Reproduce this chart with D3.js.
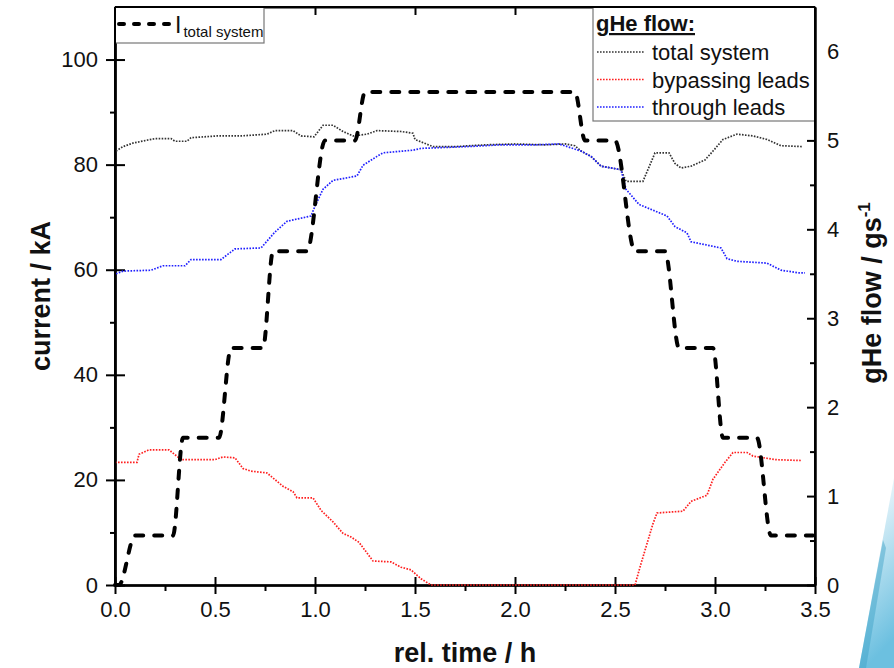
<!DOCTYPE html>
<html>
<head>
<meta charset="utf-8">
<script src="https://cdn.jsdelivr.net/npm/d3@7"></script>
<style>
  body { margin: 0; background: #fff; }
  svg { display: block; font-family: "Liberation Sans", Arial, sans-serif; }
  .axis path, .axis line { stroke: #000; stroke-width: 2; }
  .axis text { font-size: 22px; fill: #111; font-family: "Liberation Sans", Arial, sans-serif; }
</style>
</head>
<body>
<svg id="chart" width="894" height="668"></svg>
<script>
// current through the system (kA), step profile
const currentTime = [0, 0.02, 0.1, 0.29, 0.34, 0.52, 0.58, 0.74, 0.79, 0.96, 1.05, 1.2, 1.25, 2.3, 2.35, 2.5, 2.6, 2.75, 2.82, 2.99, 3.04, 3.21, 3.28, 3.49]
const currentKA = [0, 0, 9.4, 9.4, 28, 28, 45.1, 45.1, 63.5, 63.5, 84.6, 84.6, 93.8, 93.8, 84.6, 84.6, 63.5, 63.5, 45.1, 45.1, 28, 28, 9.4, 9.4]

// gHe flow, total system (g/s)
const totalTime = [0.005, 0.04, 0.09, 0.2, 0.28, 0.3, 0.36, 0.38, 0.51, 0.63, 0.76, 0.8, 0.89, 0.93, 0.995, 1.04, 1.09, 1.14, 1.19, 1.26, 1.31, 1.43, 1.49, 1.5, 1.59, 1.7, 1.85, 2.0, 2.15, 2.25, 2.3, 2.33, 2.38, 2.43, 2.53, 2.555, 2.64, 2.7, 2.77, 2.8, 2.83, 2.88, 2.95, 2.99, 3.04, 3.11, 3.19, 3.26, 3.33, 3.44]
const totalFlow = [4.88, 4.93, 4.97, 5.02, 5.02, 4.99, 4.99, 5.03, 5.05, 5.05, 5.07, 5.11, 5.11, 5.05, 5.04, 5.17, 5.17, 5.1, 5.05, 5.07, 5.11, 5.1, 5.08, 5.01, 4.93, 4.93, 4.95, 4.96, 4.95, 4.96, 4.94, 4.88, 4.82, 4.71, 4.67, 4.54, 4.54, 4.86, 4.86, 4.74, 4.69, 4.71, 4.78, 4.88, 5.01, 5.07, 5.05, 5.01, 4.94, 4.93]

// gHe flow bypassing the leads (g/s)
const bypassTime = [0, 0.11, 0.12, 0.17, 0.27, 0.33, 0.5, 0.54, 0.6, 0.64, 0.68, 0.76, 0.84, 0.89, 0.91, 0.99, 1.03, 1.09, 1.14, 1.18, 1.22, 1.26, 1.29, 1.38, 1.43, 1.48, 1.53, 1.58, 2.6, 2.63, 2.69, 2.71, 2.84, 2.88, 2.96, 2.99, 3.05, 3.09, 3.16, 3.19, 3.3, 3.43]
const bypassFlow = [1.38, 1.38, 1.47, 1.52, 1.52, 1.41, 1.41, 1.44, 1.43, 1.31, 1.28, 1.26, 1.11, 1.05, 0.98, 0.98, 0.84, 0.71, 0.58, 0.54, 0.48, 0.36, 0.27, 0.26, 0.2, 0.17, 0.07, 0, 0, 0.24, 0.69, 0.81, 0.83, 0.94, 1.01, 1.19, 1.38, 1.49, 1.49, 1.45, 1.41, 1.4]

// gHe flow through the leads (g/s)
const leadsTime = [0.005, 0.04, 0.18, 0.24, 0.35, 0.38, 0.53, 0.6, 0.73, 0.8, 0.86, 0.98, 1.0, 1.04, 1.09, 1.21, 1.24, 1.31, 1.34, 1.49, 1.53, 1.76, 1.93, 2.1, 2.22, 2.33, 2.38, 2.43, 2.53, 2.555, 2.62, 2.76, 2.8, 2.86, 2.88, 3.03, 3.06, 3.11, 3.26, 3.33, 3.42, 3.45]
const leadsFlow = [3.5, 3.53, 3.54, 3.59, 3.59, 3.66, 3.66, 3.78, 3.79, 3.97, 4.09, 4.15, 4.26, 4.45, 4.55, 4.6, 4.72, 4.82, 4.86, 4.89, 4.91, 4.93, 4.95, 4.95, 4.96, 4.88, 4.82, 4.71, 4.67, 4.45, 4.28, 4.15, 4.03, 3.96, 3.86, 3.79, 3.67, 3.64, 3.62, 3.54, 3.51, 3.51]

const timeTicks = [0, 0.5, 1, 1.5, 2, 2.5, 3, 3.5]
const timeMinor = [0.25, 0.75, 1.25, 1.75, 2.25, 2.75, 3.25]
const currentTicks = [0, 20, 40, 60, 80, 100]
const currentMinor = [10, 30, 50, 70, 90]
const flowTicks = [0, 1, 2, 3, 4, 5, 6]
const flowMinor = [0.5, 1.5, 2.5, 3.5, 4.5, 5.5]

const flowSeries = [
  { name: 'total system', time: totalTime, flow: totalFlow, color: '#333' },
  { name: 'bypassing leads', time: bypassTime, flow: bypassFlow, color: '#ff2020' },
  { name: 'through leads', time: leadsTime, flow: leadsFlow, color: '#2020ff' }
]

const svg = d3.select('#chart')
const x = d3.scaleLinear().domain([0, 3.5]).range([115, 815])
const yL = d3.scaleLinear().domain([0, 110]).range([585, 7])
const yR = d3.scaleLinear().domain([0, 6.5]).range([585, 7])

// slide decoration bottom right
const defs = svg.append('defs')
const grad = defs.append('linearGradient').attr('id', 'deco')
  .attr('x1', 0).attr('y1', 0).attr('x2', 0.2).attr('y2', 1)
grad.append('stop').attr('offset', 0).attr('stop-color', '#ffffff')
grad.append('stop').attr('offset', 0.3).attr('stop-color', '#d8eef7')
grad.append('stop').attr('offset', 1).attr('stop-color', '#6cc0e0')
svg.append('polygon')
  .attr('points', '894,478 894,668 859,668')
  .attr('fill', 'url(#deco)')
svg.append('polygon')
  .attr('points', '883,540 859,668 866,668 886,548')
  .attr('fill', '#3a9fc6').attr('opacity', 0.45)

// axes
const bottom = svg.append('g').attr('class', 'axis').attr('transform', 'translate(0,585)')
bottom.call(d3.axisBottom(x).tickValues(timeTicks).tickFormat(d3.format('.1f')).tickSize(9).tickPadding(7).tickSizeOuter(0))
bottom.append('g').call(d3.axisTop(x).tickValues(timeTicks).tickFormat('').tickSize(8).tickSizeOuter(0))
bottom.append('g').call(d3.axisBottom(x).tickValues(timeMinor).tickFormat('').tickSize(6).tickSizeOuter(0))

svg.append('g').attr('class', 'axis').attr('transform', 'translate(0,7)')
  .call(d3.axisBottom(x).tickValues(timeTicks.slice(1, -1)).tickFormat('').tickSize(8).tickSizeOuter(0))

const left = svg.append('g').attr('class', 'axis').attr('transform', 'translate(115,0)')
left.call(d3.axisLeft(yL).tickValues(currentTicks).tickSize(9).tickPadding(8).tickSizeOuter(0))
left.append('g').call(d3.axisRight(yL).tickValues(currentTicks).tickFormat('').tickSize(10).tickSizeOuter(0))
left.append('g').call(d3.axisLeft(yL).tickValues(currentMinor).tickFormat('').tickSize(5).tickSizeOuter(0))

const right = svg.append('g').attr('class', 'axis').attr('transform', 'translate(815,0)')
right.call(d3.axisRight(yR).tickValues(flowTicks).tickFormat(d3.format('d')).tickSize(-8).tickPadding(12).tickSizeOuter(0))
right.append('g').call(d3.axisRight(yR).tickValues(flowMinor).tickFormat('').tickSize(-5).tickSizeOuter(0))

// axis titles
svg.append('text').attr('x', 465).attr('y', 662).attr('text-anchor', 'middle')
  .attr('font-size', 27).attr('font-weight', 'bold').attr('fill', '#111').text('rel. time / h')
svg.append('text').attr('transform', 'translate(50,296) rotate(-90)').attr('text-anchor', 'middle')
  .attr('font-size', 27).attr('font-weight', 'bold').attr('fill', '#111').text('current / kA')
const rt = svg.append('text').attr('transform', 'translate(881,293) rotate(-90)').attr('text-anchor', 'middle')
  .attr('font-size', 27).attr('font-weight', 'bold').attr('fill', '#111')
rt.append('tspan').text('gHe flow / gs')
rt.append('tspan').attr('font-size', 17).attr('dy', -11).text('-1')

// flow curves (dotted)
flowSeries.forEach(s => {
  const pts = s.time.map((t, i) => [t, s.flow[i]])
  svg.append('path')
    .attr('d', d3.line().x(d => x(d[0])).y(d => yR(d[1]))(pts))
    .attr('fill', 'none').attr('stroke', s.color)
    .attr('stroke-width', 1.7).attr('stroke-dasharray', '1.6,1.4')
})

// total current (dashed)
const cur = currentTime.map((t, i) => [t, currentKA[i]])
svg.append('path')
  .attr('d', d3.line().x(d => x(d[0])).y(d => yL(d[1])).curve(d3.curveMonotoneX)(cur))
  .attr('fill', 'none').attr('stroke', '#000').attr('stroke-width', 4)
  .attr('stroke-linecap', 'round').attr('stroke-dasharray', '8,11')

// legend for current
svg.append('rect').attr('x', 115).attr('y', 7).attr('width', 149).attr('height', 36)
  .attr('fill', '#fff').attr('stroke', '#777').attr('stroke-width', 1.2)
svg.append('line').attr('x1', 119).attr('x2', 170).attr('y1', 24).attr('y2', 24)
  .attr('stroke', '#000').attr('stroke-width', 4).attr('stroke-linecap', 'round').attr('stroke-dasharray', '5,10')
const li = svg.append('text').attr('x', 175).attr('y', 33).attr('fill', '#111').attr('font-size', 23)
li.append('tspan').text('I')
li.append('tspan').attr('font-size', 15).attr('dy', 4).attr('dx', 2).text('total system')

// legend for gHe flow
svg.append('rect').attr('x', 593).attr('y', 7).attr('width', 222).attr('height', 114)
  .attr('fill', '#fff').attr('stroke', '#777').attr('stroke-width', 1.2)
svg.append('text').attr('x', 596).attr('y', 31).attr('font-size', 22).attr('font-weight', 'bold')
  .attr('fill', '#111').attr('text-decoration', 'underline').text('gHe flow:')
flowSeries.forEach((s, i) => {
  const yy = 52 + i * 27.5
  svg.append('line').attr('x1', 597).attr('x2', 645).attr('y1', yy).attr('y2', yy)
    .attr('stroke', s.color).attr('stroke-width', 1.7).attr('stroke-dasharray', '1.6,1.4')
  svg.append('text').attr('x', 652).attr('y', yy + 8).attr('font-size', 22).attr('fill', '#111').text(s.name)
})

// re-draw frame lines on top of legend boxes
svg.append('line').attr('x1', 115).attr('x2', 815).attr('y1', 7).attr('y2', 7).attr('stroke', '#000').attr('stroke-width', 2)
svg.append('line').attr('x1', 115).attr('x2', 115).attr('y1', 7).attr('y2', 585).attr('stroke', '#000').attr('stroke-width', 2)
svg.append('line').attr('x1', 815).attr('x2', 815).attr('y1', 7).attr('y2', 585).attr('stroke', '#000').attr('stroke-width', 2)
</script>
</body>
</html>
